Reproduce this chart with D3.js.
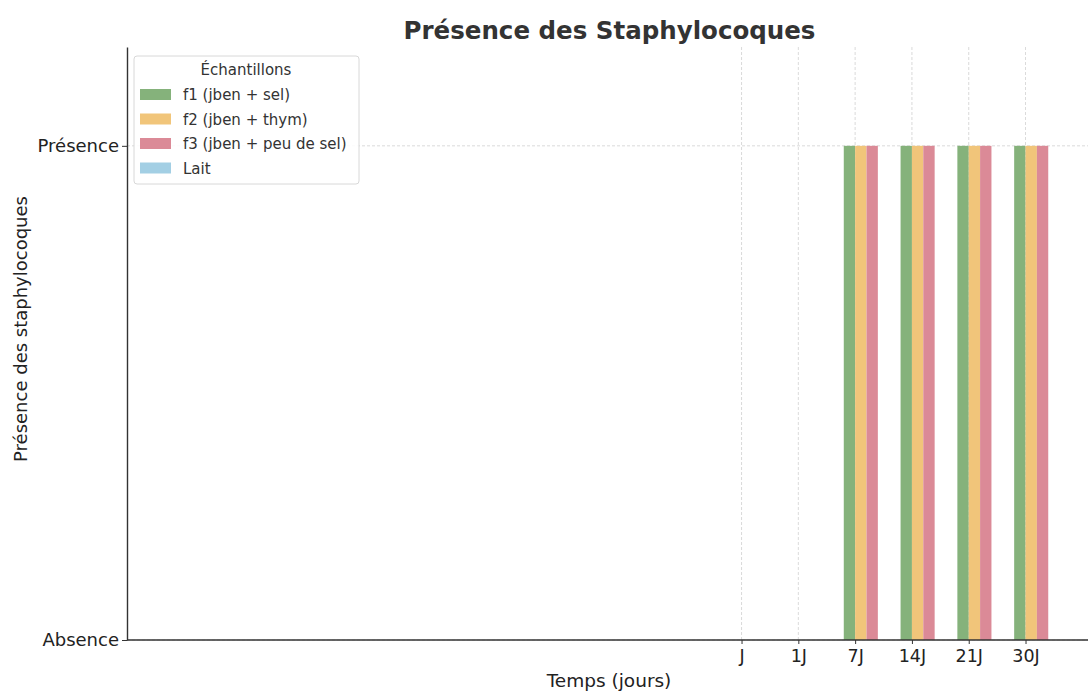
<!DOCTYPE html>
<html>
<head>
<meta charset="utf-8">
<script src="https://cdn.jsdelivr.net/npm/d3@7"></script>
<style>
  html, body { margin: 0; padding: 0; background: #fff; }
  svg { display: block; font-family: "DejaVu Sans", sans-serif; }
</style>
</head>
<body>
<svg id="chart" width="1088" height="691"></svg>
<script>
const categories = ["J", "1J", "7J", "14J", "21J", "30J"];
const seriesNames = ["f1 (jben + sel)", "f2 (jben + thym)", "f3 (jben + peu de sel)", "Lait"];
const f1 = [0, 0, 1, 1, 1, 1];
const f2 = [0, 0, 1, 1, 1, 1];
const f3 = [0, 0, 1, 1, 1, 1];
const lait = [0, 0, 0, 0, 0, 0];
const yTickValues = [0, 1];
const yTickLabels = ["Absence", "Présence"];
const colors = ["#85b27b", "#f1c57a", "#db8a97", "#a3cfe4"];

const series = [f1, f2, f3, lait];

const svg = d3.select("#chart");
const W = 1088, H = 691;
const margin = { left: 127, right: 0, top: 47, bottom: 51 };
const plotL = margin.left, plotR = W - margin.right;
const plotT = margin.top, plotB = H - margin.bottom;

// x: category index scale (axis extends far left of the first category)
const x = d3.scaleLinear().domain([-10.82, 6.1]).range([plotL, plotR]);
const barW = 0.2;
const y = d3.scaleLinear().domain([0, 1.2]).range([plotB, plotT]);

const grid = svg.append("g");
grid.selectAll("line.v").data(categories).join("line")
  .attr("x1", (d, i) => x(i)).attr("x2", (d, i) => x(i))
  .attr("y1", plotT).attr("y2", plotB)
  .attr("stroke", "#d0d0d0").attr("stroke-width", 0.8)
  .attr("stroke-dasharray", "3,2");
grid.selectAll("line.h").data(yTickValues).join("line")
  .attr("x1", plotL).attr("x2", plotR)
  .attr("y1", d => y(d)).attr("y2", d => y(d))
  .attr("stroke", "#d0d0d0").attr("stroke-width", 0.8)
  .attr("stroke-dasharray", "3,2");

series.forEach((vals, s) => {
  svg.append("g").selectAll("rect").data(vals).join("rect")
    .attr("x", (d, i) => x(i + (s - 1) * barW))
    .attr("width", x(barW) - x(0))
    .attr("y", d => y(d))
    .attr("height", d => y(0) - y(d))
    .attr("fill", colors[s]);
});

const xAxis = d3.axisBottom(x)
  .tickValues(d3.range(categories.length))
  .tickFormat(i => categories[i])
  .tickSize(4).tickSizeOuter(0);
const gx = svg.append("g").attr("transform", `translate(0,${plotB})`).call(xAxis);
gx.select(".domain").attr("stroke", "#333").attr("stroke-width", 1.4).attr("d", `M${plotL},0H${plotR}`);
gx.selectAll(".tick line").attr("stroke", "#333");
gx.selectAll(".tick text").attr("font-size", 17.5).attr("fill", "#222").attr("dy", "0.85em")
  .attr("font-family", "DejaVu Sans, sans-serif");

const yAxis = d3.axisLeft(y)
  .tickValues(yTickValues)
  .tickFormat((d, i) => yTickLabels[i])
  .tickSize(5).tickSizeOuter(0);
const gy = svg.append("g").attr("transform", `translate(${plotL},0)`).call(yAxis);
gy.select(".domain").attr("stroke", "#333").attr("stroke-width", 1.4);
gy.selectAll(".tick line").attr("stroke", "#333");
gy.selectAll(".tick text").attr("font-size", 18).attr("fill", "#222")
  .attr("font-family", "DejaVu Sans, sans-serif");

svg.append("text")
  .attr("x", (plotL + plotR) / 2 + 2).attr("y", 39)
  .attr("text-anchor", "middle")
  .attr("font-size", 24.5).attr("font-weight", "bold").attr("fill", "#333")
  .text("Présence des Staphylocoques");

svg.append("text")
  .attr("x", 609).attr("y", 687)
  .attr("text-anchor", "middle").attr("font-size", 18.5).attr("fill", "#222")
  .text("Temps (jours)");
svg.append("text")
  .attr("transform", `translate(27,329) rotate(-90)`)
  .attr("text-anchor", "middle").attr("font-size", 18).attr("fill", "#222")
  .text("Présence des staphylocoques");

const lg = svg.append("g").attr("transform", "translate(134,56)");
lg.append("rect").attr("width", 225).attr("height", 128).attr("rx", 3)
  .attr("fill", "#fff").attr("fill-opacity", 0.85)
  .attr("stroke", "#d8d8d8").attr("stroke-width", 1);
lg.append("text").attr("x", 112).attr("y", 19).attr("text-anchor", "middle")
  .attr("font-size", 15).attr("fill", "#333").text("Échantillons");
const items = lg.selectAll("g.item").data(seriesNames).join("g")
  .attr("transform", (d, i) => `translate(6,${33 + i * 24.5})`);
items.append("rect").attr("width", 31).attr("height", 11).attr("fill", (d, i) => colors[i]);
items.append("text").attr("x", 43).attr("y", 11).attr("font-size", 15).attr("fill", "#333").text(d => d);
</script>
</body>
</html>
